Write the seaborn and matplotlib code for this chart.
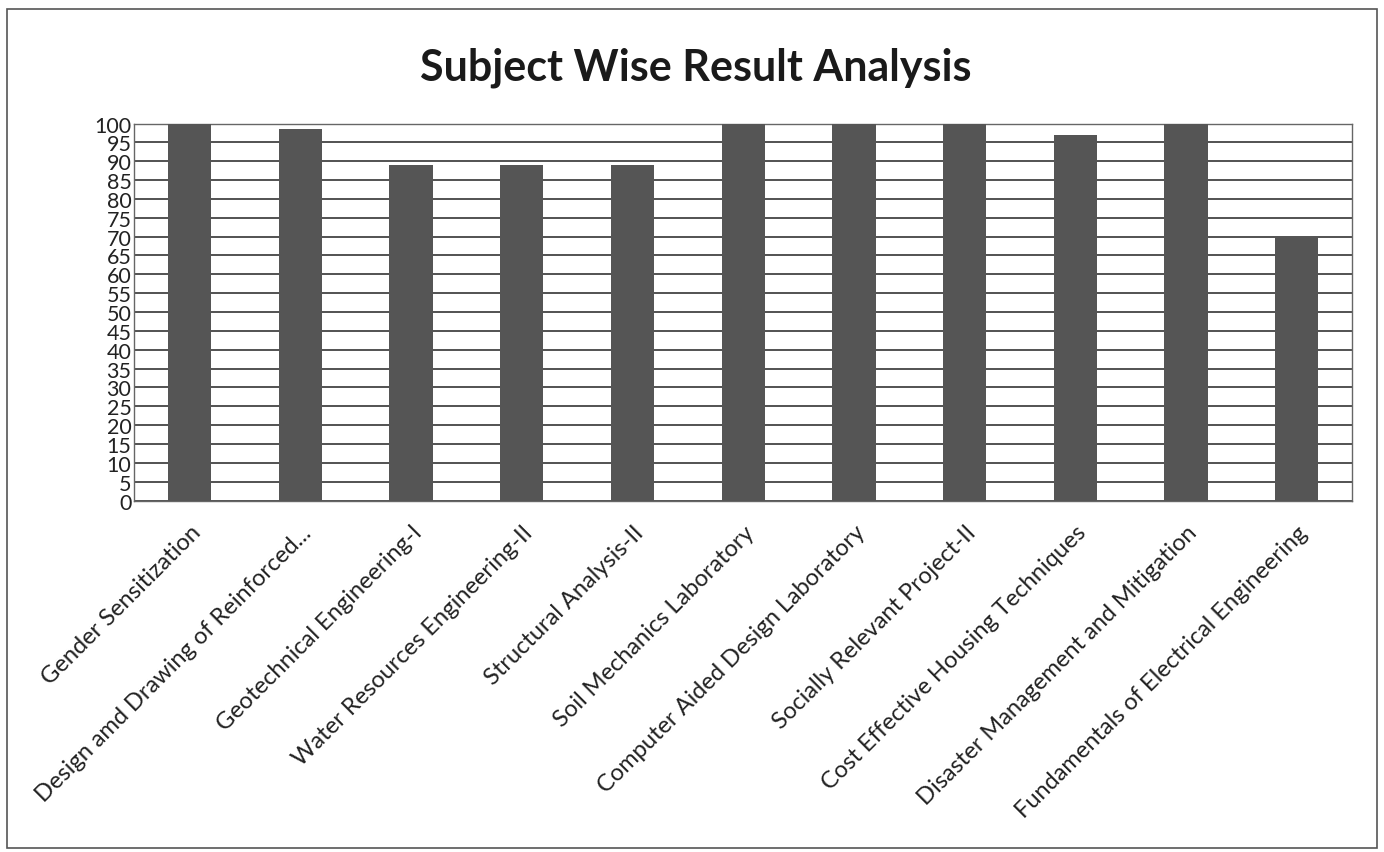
import numpy as np
import pandas as pd
import seaborn as sns
import matplotlib.pyplot as plt
from matplotlib.patches import Rectangle

subjects = ['Gender Sensitization', 'Design amd Drawing of Reinforced...',
            'Geotechnical Engineering-I', 'Water Resources Engineering-II',
            'Structural Analysis-II', 'Soil Mechanics Laboratory',
            'Computer Aided Design Laboratory', 'Socially Relevant Project-II',
            'Cost Effective Housing Techniques', 'Disaster Management and Mitigation',
            'Fundamentals of Electrical Engineering']
pass_pct = [100, 98.5, 89, 89, 89, 100, 100, 100, 97, 100, 70]
yticks = list(range(0, 101, 5))

df = pd.DataFrame({'subject': subjects, 'pass': pass_pct})

sns.set_style('white')
plt.rcParams['font.family'] = ['Lato', 'DejaVu Sans']

fig = plt.figure(figsize=(13.84, 8.53), dpi=100)
ax = fig.add_axes([0.097, 0.412, 0.880, 0.442])

sns.barplot(ax=ax, data=df, x='subject', y='pass', color='#555555',
            width=0.39, saturation=1, linewidth=0, zorder=3)

ax.set_ylim(0, 100)
ax.set_yticks(yticks)
ax.set_yticklabels([str(t) for t in yticks], fontsize=15.5, color='#222222')
ax.yaxis.grid(True, color='#444444', linewidth=1.3, zorder=0)
ax.set_axisbelow(True)
ax.set_xlabel('')
ax.set_ylabel('')
ax.tick_params(axis='y', length=0, pad=2)
ax.tick_params(axis='x', length=0, pad=15)
for lbl in ax.get_xticklabels():
    lbl.set_rotation(45)
    lbl.set_ha('right')
    lbl.set_rotation_mode('anchor')
    lbl.set_fontsize(17)
    lbl.set_color('#222222')
for sp in ax.spines.values():
    sp.set_color('#666666')
    sp.set_linewidth(1)

fig.text(0.503, 0.921, 'Subject Wise Result Analysis', ha='center', va='center',
         fontsize=31, fontweight='bold', color='#1a1a1a')

# page frame
fig.patches.append(Rectangle((0.005, 0.005), 0.99, 0.983, transform=fig.transFigure,
                             fill=False, edgecolor='#555555', linewidth=1.2))

plt.savefig('out.png', dpi=100)
